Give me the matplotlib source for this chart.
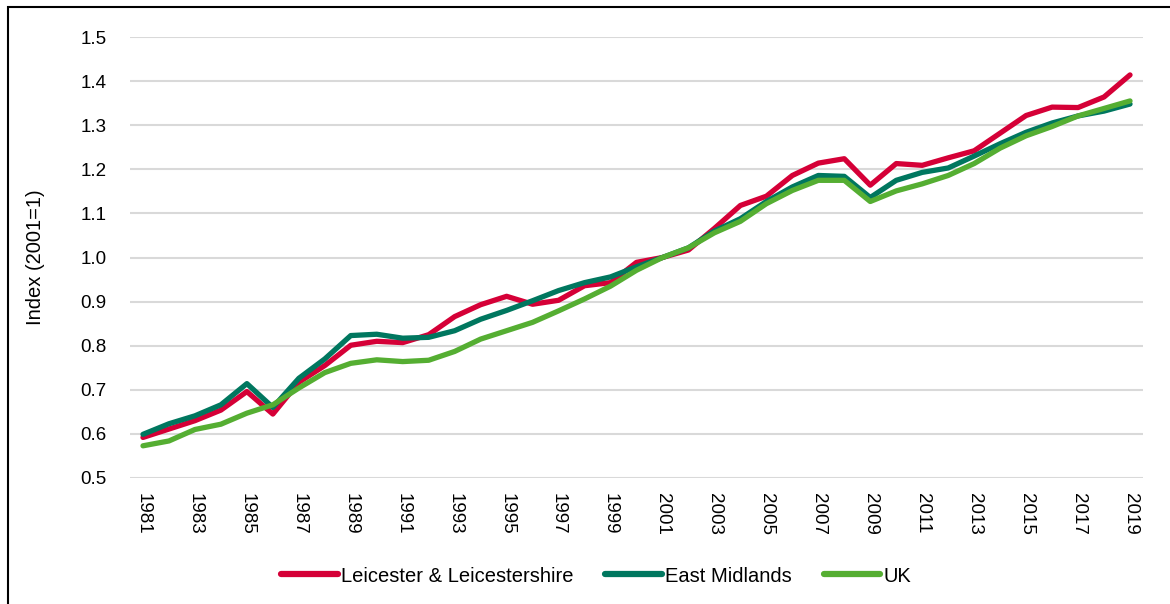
import matplotlib
matplotlib.use("Agg")
import matplotlib.pyplot as plt
from matplotlib.patches import Rectangle

years = list(range(1981, 2020))

leics = [0.592, 0.611, 0.630, 0.654, 0.696, 0.645, 0.717, 0.755, 0.801, 0.810,
         0.807, 0.825, 0.866, 0.893, 0.912, 0.894, 0.903, 0.936, 0.943, 0.989,
         1.000, 1.017, 1.066, 1.118, 1.139, 1.186, 1.214, 1.224, 1.164, 1.213,
         1.209, 1.226, 1.242, 1.282, 1.322, 1.341, 1.340, 1.364, 1.414]
east_mid = [0.599, 0.623, 0.641, 0.666, 0.714, 0.660, 0.726, 0.770, 0.823, 0.826,
            0.817, 0.819, 0.834, 0.860, 0.880, 0.902, 0.925, 0.943, 0.956, 0.979,
            1.000, 1.022, 1.060, 1.088, 1.127, 1.160, 1.186, 1.184, 1.136, 1.175,
            1.193, 1.203, 1.230, 1.258, 1.284, 1.305, 1.321, 1.332, 1.348]
uk = [0.573, 0.584, 0.610, 0.622, 0.647, 0.666, 0.704, 0.739, 0.760, 0.768,
      0.764, 0.767, 0.787, 0.815, 0.834, 0.853, 0.879, 0.906, 0.935, 0.971,
      1.000, 1.022, 1.056, 1.082, 1.122, 1.152, 1.175, 1.175, 1.127, 1.151,
      1.167, 1.186, 1.213, 1.248, 1.276, 1.297, 1.321, 1.338, 1.355]

series = ["Leicester & Leicestershire", "East Midlands", "UK"]
colours = ["#D50037", "#00775F", "#55AE32"]

plt.rcParams["font.family"] = ["Liberation Sans", "DejaVu Sans"]
fs_tick = 13.5
fs_text = 14.5

fig = plt.figure(figsize=(11.7, 6.04), dpi=100)
W, H = 1170, 604
ax = fig.add_axes([130 / W, 1 - 478 / H, (1143 - 130) / W, (478 - 37) / H])

x = list(range(len(years)))
for vals, name, c in zip([leics, east_mid, uk], series, colours):
    ax.plot(x, vals, color=c, lw=3.8, label=name, solid_capstyle="round", zorder=3)

ax.set_xlim(-0.5, len(years) - 0.5)
ax.set_ylim(0.5, 1.5)
ax.set_yticks([0.5 + 0.1 * i for i in range(11)])
ax.set_yticklabels([f"{0.5 + 0.1 * i:.1f}" for i in range(11)], fontsize=fs_tick)
ax.set_xticks(x[::2])
ax.set_xticklabels([str(y) for y in years[::2]], rotation=270, fontsize=fs_tick)
ax.tick_params(axis="both", length=0, colors="black")
ax.tick_params(axis="y", pad=17)
ax.tick_params(axis="x", pad=11)
ax.grid(axis="y", color="#D9D9D9", lw=1.5, zorder=0)
for s in ax.spines.values():
    s.set_visible(False)
ax.set_ylabel("Index (2001=1)", fontsize=fs_text)
ax.yaxis.set_label_coords(-85 / 1013, 0.5)

leg = fig.legend(loc="center", bbox_to_anchor=(596 / W, 1 - 576 / H), ncol=3,
                 frameon=False, fontsize=fs_text, handlelength=2.8, handletextpad=0.15,
                 columnspacing=1.6)
for line in leg.get_lines():
    line.set_linewidth(4.5)
    line.set_solid_capstyle("round")

fig.patches.append(Rectangle((8 / W, -0.1), 1.2, 1 - 7 / H + 0.1, transform=fig.transFigure,
                             fill=False, edgecolor="black", lw=1.5))

fig.savefig("out.png", dpi=100)
